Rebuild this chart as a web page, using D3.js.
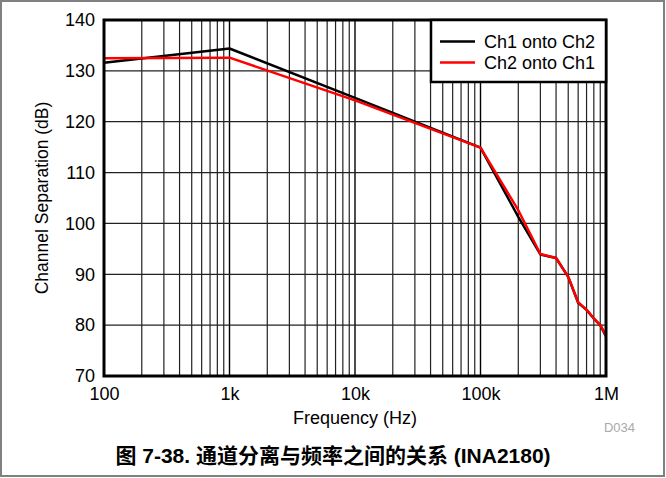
<!DOCTYPE html>
<html><head><meta charset="utf-8">
<script src="https://cdn.jsdelivr.net/npm/d3@7"></script>
<style>
body{margin:0;background:#fff;}
svg{display:block;font-family:"Liberation Sans",Arial,sans-serif;}
</style></head>
<body><svg id="c" width="666" height="478"></svg>
<script>
const freqs = [100, 1000, 10000, 100000, 200000, 300000, 400000, 500000, 600000, 700000, 800000, 900000, 1000000];
const ch1onto2 = [131.6, 134.4, 124.7, 114.9, 101.3, 93.9, 93.2, 89.5, 84.4, 83.0, 81.3, 80.0, 77.8];
const ch2onto1 = [132.5, 132.6, 124.2, 114.9, 102.6, 94.0, 93.2, 89.5, 84.5, 83.0, 81.3, 80.0, 78.0];
const seriesNames = ["Ch1 onto Ch2", "Ch2 onto Ch1"];
const seriesColors = ["#000000", "#ff0000"];
const xTicks = [100, 1000, 10000, 100000, 1000000];
const xTickLabels = ["100", "1k", "10k", "100k", "1M"];
const yTicks = [70, 80, 90, 100, 110, 120, 130, 140];

const svg = d3.select("#c");
const L = 104, R = 606, T = 20, B = 376;
const x = d3.scaleLog().domain([100, 1e6]).range([L, R]);
const y = d3.scaleLinear().domain([70, 140]).range([B, T]);
const FF = "'Liberation Sans', Arial, sans-serif";

// outer frame
svg.append("rect").attr("x", 1).attr("y", 1).attr("width", 663).attr("height", 475)
  .attr("fill", "#fff").attr("stroke", "#808080").attr("stroke-width", 2);

// minor vertical grid
const minor = [];
for (let d = 100; d < 1e6; d *= 10) for (let k = 2; k <= 9; k++) minor.push(d * k);
svg.append("g").selectAll("line").data(minor).join("line")
  .attr("x1", d => x(d)).attr("x2", d => x(d)).attr("y1", T).attr("y2", B)
  .attr("stroke", "#222").attr("stroke-width", 1.2);
svg.append("g").selectAll("line").data(xTicks).join("line")
  .attr("x1", d => x(d)).attr("x2", d => x(d)).attr("y1", T).attr("y2", B)
  .attr("stroke", "#000").attr("stroke-width", 1.4);
svg.append("g").selectAll("line").data(yTicks).join("line")
  .attr("x1", L).attr("x2", R).attr("y1", d => y(d)).attr("y2", d => y(d))
  .attr("stroke", "#222").attr("stroke-width", 1.2);

// lines
const line = d3.line().x((d, i) => x(freqs[i])).y(d => y(d));
[ch1onto2, ch2onto1].forEach((s, i) => {
  svg.append("path").datum(s).attr("d", line).attr("fill", "none")
    .attr("stroke", seriesColors[i]).attr("stroke-width", 2.5).attr("stroke-linejoin", "round");
});

// plot border
svg.append("rect").attr("x", L).attr("y", T).attr("width", R - L).attr("height", B - T)
  .attr("fill", "none").attr("stroke", "#000").attr("stroke-width", 3);

// axes labels
const yAxis = d3.axisLeft(y).tickValues(yTicks).tickSize(0).tickPadding(9);
const gy = svg.append("g").attr("transform", `translate(${L},0)`).call(yAxis);
gy.select(".domain").remove();
gy.selectAll("text").attr("font-size", 18).attr("fill", "#000").attr("font-family", FF);

const xAxis = d3.axisBottom(x).tickValues(xTicks).tickFormat((d, i) => xTickLabels[i]).tickSize(0).tickPadding(11);
const gx = svg.append("g").attr("transform", `translate(0,${B})`).call(xAxis);
gx.select(".domain").remove();
gx.selectAll("text").attr("font-size", 18).attr("fill", "#000").attr("font-family", FF);

svg.append("text").attr("x", 355).attr("y", 424).attr("text-anchor", "middle")
  .attr("font-size", 18).text("Frequency (Hz)");
svg.append("text").attr("transform", `translate(48,198) rotate(-90)`)
  .attr("text-anchor", "middle").attr("font-size", 17.5).text("Channel Separation (dB)");
svg.append("text").attr("x", 635).attr("y", 432).attr("text-anchor", "end")
  .attr("font-size", 13).attr("fill", "#aaa").text("D034");
svg.append("text").attr("x", 333).attr("y", 463).attr("text-anchor", "middle")
  .attr("font-size", 21).attr("font-weight", "bold")
  .attr("font-family", "'Liberation Sans', 'Noto Sans CJK SC', sans-serif")
  .text("图 7-38. 通道分离与频率之间的关系 (INA2180)");

// legend
const lg = svg.append("g");
lg.append("rect").attr("x", 431).attr("y", 20).attr("width", 175).attr("height", 62)
  .attr("fill", "#fff").attr("stroke", "#000").attr("stroke-width", 2.5);
seriesNames.forEach((n, i) => {
  const yy = 41.5 + i * 21;
  lg.append("line").attr("x1", 440).attr("x2", 475).attr("y1", yy).attr("y2", yy)
    .attr("stroke", seriesColors[i]).attr("stroke-width", 2.5);
  lg.append("text").attr("x", 484).attr("y", yy + 6.5).attr("font-size", 18).text(n);
});
</script></body></html>
